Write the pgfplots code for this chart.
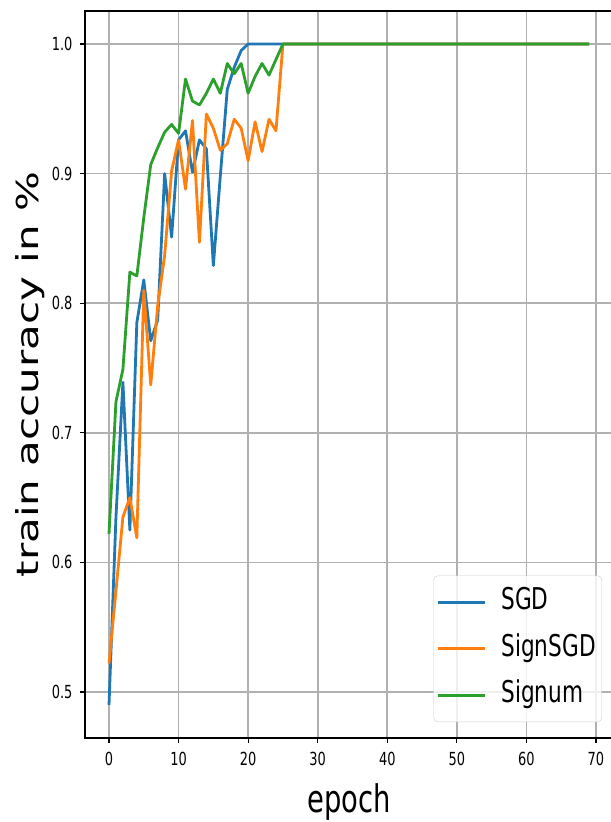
\documentclass[border=0pt]{standalone}
\usepackage{fontspec}
\setmainfont{DejaVu Sans}
\usepackage{pgfplots}
\usepackage{pgfplotstable}
\pgfplotsset{compat=1.18}
\definecolor{cSGD}{HTML}{1F77B4}
\definecolor{cSign}{HTML}{FF7F0E}
\definecolor{cSignum}{HTML}{2CA02C}
\definecolor{gridgray}{HTML}{B0B0B0}

\pgfplotstableread{
epoch sgd signsgd signum
0 0.490 0.522 0.622
1 0.635 0.578 0.724
2 0.739 0.635 0.749
3 0.625 0.650 0.824
4 0.785 0.619 0.821
5 0.818 0.810 0.866
6 0.771 0.737 0.907
7 0.787 0.798 0.920
8 0.900 0.837 0.932
9 0.851 0.902 0.938
10 0.926 0.926 0.931
11 0.933 0.888 0.973
12 0.901 0.941 0.956
13 0.926 0.847 0.953
14 0.919 0.946 0.962
15 0.829 0.935 0.973
16 0.898 0.918 0.962
17 0.965 0.923 0.985
18 0.982 0.942 0.977
19 0.995 0.935 0.985
20 1.000 0.910 0.962
21 1.000 0.940 0.975
22 1.000 0.917 0.985
23 1.000 0.942 0.976
24 1.000 0.933 0.988
25 1.000 1.000 1.000
26 1.000 1.000 1.000
27 1.000 1.000 1.000
28 1.000 1.000 1.000
29 1.000 1.000 1.000
30 1.000 1.000 1.000
31 1.000 1.000 1.000
32 1.000 1.000 1.000
33 1.000 1.000 1.000
34 1.000 1.000 1.000
35 1.000 1.000 1.000
36 1.000 1.000 1.000
37 1.000 1.000 1.000
38 1.000 1.000 1.000
39 1.000 1.000 1.000
40 1.000 1.000 1.000
41 1.000 1.000 1.000
42 1.000 1.000 1.000
43 1.000 1.000 1.000
44 1.000 1.000 1.000
45 1.000 1.000 1.000
46 1.000 1.000 1.000
47 1.000 1.000 1.000
48 1.000 1.000 1.000
49 1.000 1.000 1.000
50 1.000 1.000 1.000
51 1.000 1.000 1.000
52 1.000 1.000 1.000
53 1.000 1.000 1.000
54 1.000 1.000 1.000
55 1.000 1.000 1.000
56 1.000 1.000 1.000
57 1.000 1.000 1.000
58 1.000 1.000 1.000
59 1.000 1.000 1.000
60 1.000 1.000 1.000
61 1.000 1.000 1.000
62 1.000 1.000 1.000
63 1.000 1.000 1.000
64 1.000 1.000 1.000
65 1.000 1.000 1.000
66 1.000 1.000 1.000
67 1.000 1.000 1.000
68 1.000 1.000 1.000
69 1.000 1.000 1.000
}\accdata

\begin{document}
\begin{tikzpicture}[x=1bp,y=1bp]
\begin{axis}[
  at={(85bp,84bp)}, anchor=south west,
  scale only axis, width=528bp, height=727bp,
  xmin=-3.45, xmax=72.45, ymin=0.4645, ymax=1.0255,
  xtick={0,10,20,30,40,50,60,70},
  ytick={0.5,0.6,0.7,0.8,0.9,1.0},
  /pgf/number format/assume math mode=true,
  xticklabel={\scalebox{0.72}[1]{\pgfmathprintnumber{\tick}}},
  yticklabel={\scalebox{0.72}[1]{\pgfmathprintnumber[fixed,fixed zerofill,precision=1]{\tick}}},
  ticklabel style={font=\fontsize{18bp}{20bp}\selectfont},
  xticklabel style={yshift=-6bp},
  yticklabel style={xshift=-4bp},
  grid=major,
  major grid style={color=gridgray, line width=1.6bp},
  axis line style={line width=1.6bp, black},
  tick align=outside, tick pos=left,
  major tick length=5bp,
  every tick/.style={black, line width=1.2bp},
  xlabel={\scalebox{0.72}[1]{epoch}},
  xlabel style={font=\fontsize{38bp}{40bp}\selectfont, at={(axis description cs:0.5,-0.1018)}, anchor=base},
  ylabel={\scalebox{1}[0.72]{train accuracy in \%}},
  ylabel style={font=\fontsize{42bp}{44bp}\selectfont, at={(axis description cs:-0.089,0.5)}, anchor=base},
  title={\scalebox{0.72}[1]{Training accuracy}},
  title style={font=\fontsize{40bp}{42bp}\selectfont, at={(axis description cs:0.6206,1.0213)}, anchor=base},
  legend style={at={(axis description cs:0.979,0.022)}, anchor=south east,
    font=\fontsize{30bp}{36bp}\selectfont, draw=black!20,
    fill=white, fill opacity=0.8, text opacity=1, rounded corners=4bp,
    inner xsep=3bp, inner ysep=9bp, row sep=11.5bp,
    nodes={inner sep=3bp, text height=22bp, text depth=7bp},
    /tikz/every odd column/.append style={column sep=12bp}},
  legend cell align=left,
  legend image code/.code={\path[draw, #1, line width=2.8bp, sharp corners] (0bp,0bp) -- (23.5bp,0bp) -- (47bp,0bp);},
]
\addplot[cSGD, line width=2.8bp, line join=round] table[x=epoch, y=sgd] {\accdata};
\addlegendentry{\scalebox{0.72}[1]{SGD}}
\addplot[cSign, line width=2.8bp, line join=round] table[x=epoch, y=signsgd] {\accdata};
\addlegendentry{\scalebox{0.72}[1]{SignSGD}}
\addplot[cSignum, line width=2.8bp, line join=round] table[x=epoch, y=signum] {\accdata};
\addlegendentry{\scalebox{0.72}[1]{Signum}}
\end{axis}
\pgfresetboundingbox
\useasboundingbox (0,0) rectangle (611,822);
\end{tikzpicture}
\end{document}
